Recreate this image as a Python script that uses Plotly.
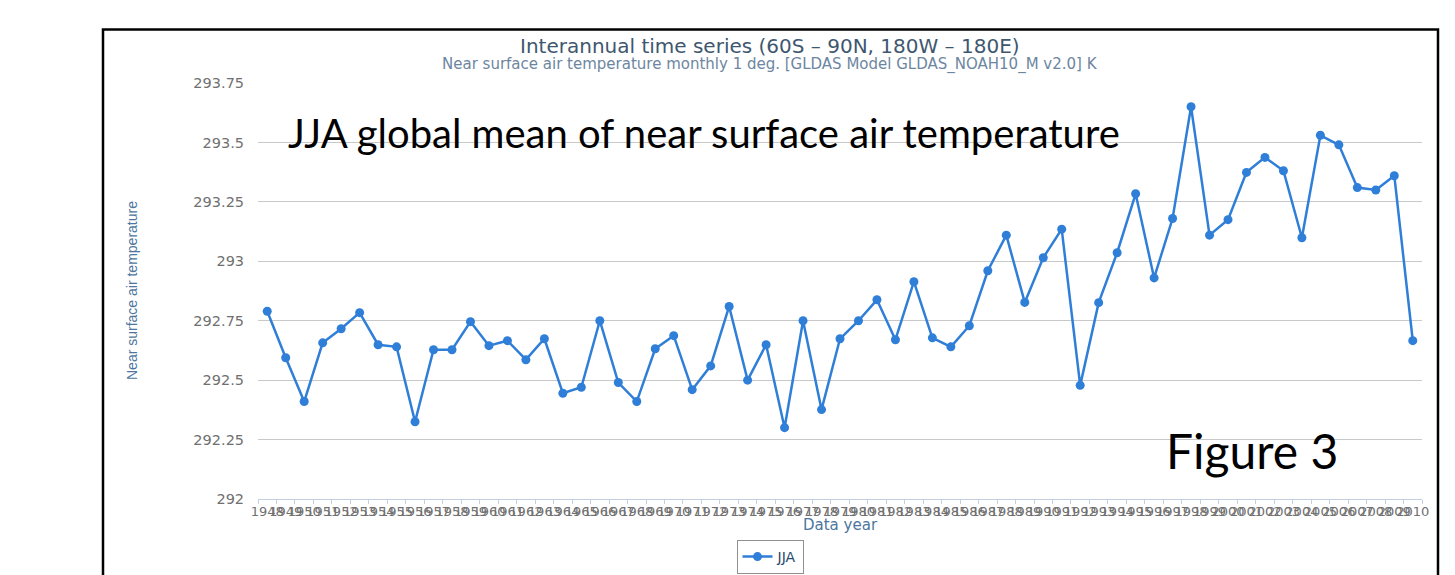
import plotly.graph_objects as go

years = [str(y) for y in range(1948, 2011)]
jja = [
    292.79, 292.594, 292.41, 292.657, 292.716, 292.784, 292.649, 292.64, 292.325, 292.628,
    292.628, 292.746, 292.645, 292.666, 292.586, 292.674, 292.445, 292.47, 292.75, 292.49,
    292.41, 292.632, 292.687, 292.46, 292.56, 292.81, 292.5, 292.649, 292.30, 292.75,
    292.376, 292.674, 292.75, 292.838, 292.67, 292.914, 292.678, 292.64, 292.729, 292.96,
    293.11, 292.827, 293.015, 293.135, 292.478, 292.826, 293.036, 293.284, 292.93, 293.18,
    293.65, 293.11, 293.175, 293.374, 293.437, 293.381, 293.099, 293.53, 293.49, 293.31,
    293.30, 293.36, 292.666,
]
y_ticks = [292, 292.25, 292.5, 292.75, 293, 293.25, 293.5, 293.75]
y_tick_text = ["292", "292.25", "292.5", "292.75", "293", "293.25", "293.5", "293.75"]

# page offset caused by the default 8px body margin
O = 8
W, H = 1455 - O, 575 - O
# plot area in page pixels
L, R, T, B = 258, 1422, 83, 499

def px(x):
    return (x - L) / (R - L)

def py(y):
    return (B - y) / (B - T)

fig = go.Figure()
fig.add_trace(go.Scatter(
    x=years, y=jja, mode="lines+markers", name="JJA",
    line=dict(color="#2f7ed8", width=2.5),
    marker=dict(color="#2f7ed8", size=9),
))

fig.update_layout(
    width=W, height=H,
    margin=dict(l=L - O, r=(1455 - R), t=T - O, b=(575 - B), autoexpand=False),
    paper_bgcolor="white", plot_bgcolor="white",
    showlegend=True,
    legend=dict(
        x=px(770), y=py(557), xanchor="center", yanchor="middle",
        orientation="h", bordercolor="#909090", borderwidth=1,
        font=dict(family="DejaVu Sans", size=14, color="#274b6d"),
        bgcolor="white",
    ),
    xaxis=dict(
        type="category", range=[-0.5, len(years) - 0.5],
        tickmode="linear", dtick=1, tickangle=0,
        tickson="boundaries", ticks="outside", ticklen=4, tickcolor="#C0D0E0",
        showline=True, linecolor="#C0D0E0", linewidth=1,
        showgrid=False, zeroline=False,
        tickfont=dict(family="DejaVu Sans", size=13, color="#707070"),
    ),
    yaxis=dict(
        range=[292, 293.75], tickvals=y_ticks, ticktext=y_tick_text,
        showgrid=True, gridcolor="#C8C8C8", gridwidth=1,
        zeroline=False, showline=False, ticks="outside", ticklen=10, tickcolor="white",
        tickfont=dict(family="DejaVu Sans", size=14.5, color="#707070"),
    ),
)

annotations = [
    dict(text="Interannual time series (60S – 90N, 180W – 180E)", x=px(770), y=py(46),
         font=dict(family="DejaVu Sans", size=20, color="#3E576F")),
    dict(text="Near surface air temperature monthly 1 deg. [GLDAS Model GLDAS_NOAH10_M v2.0] K",
         x=px(770), y=py(64), font=dict(family="DejaVu Sans", size=15, color="#6D869F")),
    dict(text="Near surface air temperature", x=px(132), y=py(291), textangle=-90,
         font=dict(family="Liberation Sans Narrow, Liberation Sans", size=14, color="#4d759e")),
    dict(text="Data year", x=px(840), y=py(525),
         font=dict(family="DejaVu Sans", size=15, color="#4d759e")),
    dict(text="JJA global mean of near surface air temperature", x=px(703.5), y=py(133),
         font=dict(family="Lato", size=40, color="black")),
    dict(text="Figure 3", x=px(1252), y=py(450),
         font=dict(family="Lato", size=48, color="black")),
]
for a in annotations:
    a.update(xref="paper", yref="paper", xanchor="center", yanchor="middle", showarrow=False)
    fig.add_annotation(**a)

fig.add_shape(type="rect", xref="paper", yref="paper",
              x0=px(103), x1=px(1438), y0=py(29.5), y1=py(600),
              line=dict(color="black", width=2.5), fillcolor="rgba(0,0,0,0)", layer="above")

fig.write_html("out.html")
